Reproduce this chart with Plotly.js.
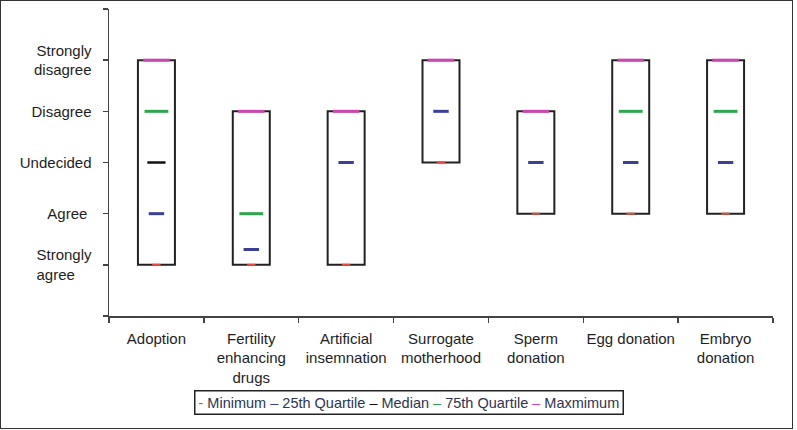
<!DOCTYPE html>
<html>
<head>
<meta charset="utf-8">
<script src="https://cdn.plot.ly/plotly-3.0.1.min.js"></script>
<style>
  html, body { margin: 0; padding: 0; background: #fff; }
  #wrap { position: relative; width: 797px; height: 430px; }
  #chart { width: 797px; height: 430px; }
  #frame { position: absolute; left: 0; top: 0; width: 791px; height: 427px; border: 1.5px solid #333; pointer-events: none; }
</style>
</head>
<body>
<div id="wrap"><div id="chart"></div><div id="frame"></div></div>
<script>
// ---- data ----
const categories = ['Adoption', 'Fertility<br>enhancing<br>drugs', 'Artificial<br>insemnation', 'Surrogate<br>motherhood', 'Sperm<br>donation', 'Egg donation', 'Embryo<br>donation'];
const minimum  = [1, 1,   1,    3,    2,    2,    2];
const quart25  = [2, 1.3, 3,    4,    3,    3,    3];
const median   = [3, null, null, null, null, null, null];
const quart75  = [4, 2,   null, null, null, 4,    4];
const maximum  = [5, 4,   4,    5,    4,    5,    5];

const yTickVals = [0, 1, 2, 3, 4, 5, 6];
const yTickText = ['', 'Strongly<br>agree\u00a0\u00a0\u00a0\u00a0', 'Agree\u00a0', 'Undecided', 'Disagree', 'Strongly<br>disagree', ''];

const seriesNames  = ['Minimum', '25th Quartile', 'Median', '75th Quartile', 'Maxmimum'];
const seriesColors = ['#e8493c', '#3c3f96', '#111111', '#2ea650', '#cc45b0'];
const seriesSymbolsText = ['-', '\u2013', '\u2013', '\u2013', '\u2013'];

// ---- traces ----
const font = 'Liberation Sans, Arial, sans-serif';
const seriesData = [minimum, quart25, median, quart75, maximum];
const dashSize  = [6, 11, 13, 17, 19];
const dashWidth = [2, 3, 2.5, 3, 3];

const traces = [];
traces.push({
  type: 'bar',
  x: categories,
  base: minimum,
  y: maximum.map((v, i) => v - minimum[i]),
  width: 0.39,
  marker: { color: '#ffffff', line: { color: '#222222', width: 2 } },
  hoverinfo: 'skip',
  showlegend: false
});
seriesData.forEach((arr, k) => {
  traces.push({
    type: 'scatter',
    mode: 'markers',
    name: seriesNames[k],
    x: categories,
    y: arr,
    marker: { symbol: 'line-ew', size: dashSize[k], line: { color: seriesColors[k], width: dashWidth[k] } },
    showlegend: false,
    cliponaxis: false
  });
});

const legendText = seriesNames.map((n, k) =>
  '<span style="color:' + seriesColors[k] + '">' + seriesSymbolsText[k] + '</span> ' + n
).join(' ');

const layout = {
  width: 797, height: 430,
  margin: { l: 109, r: 24, t: 9, b: 114 },
  paper_bgcolor: '#ffffff',
  plot_bgcolor: '#ffffff',
  font: { family: font, size: 15, color: '#1e1e1e' },
  showlegend: false,
  bargap: 0,
  xaxis: {
    type: 'category',
    range: [-0.5, 6.5],
    tickson: 'boundaries',
    tickangle: 0,
    ticks: 'outside', ticklen: 5, tickcolor: '#444', tickwidth: 1.5,
    showline: true, linecolor: '#444', linewidth: 1.5,
    showgrid: false, zeroline: false,
    ticklabelstandoff: 8,
    tickfont: { family: font, size: 15, color: '#1e1e1e' }
  },
  yaxis: {
    range: [0, 6],
    tickmode: 'array', tickvals: yTickVals, ticktext: yTickText,
    ticks: 'outside', ticklen: 5, tickcolor: '#444', tickwidth: 1.5,
    showline: true, linecolor: '#444', linewidth: 1.5,
    showgrid: false, zeroline: false,
    ticklabelstandoff: 8,
    tickfont: { family: font, size: 15, color: '#1e1e1e' }
  },
  annotations: [{
    xref: 'paper', yref: 'paper',
    x: 0.452, y: -0.241, xanchor: 'center', yanchor: 'top',
    text: legendText,
    showarrow: false,
    font: { family: font, size: 14.5, color: '#2e3452' },
    bordercolor: '#222', borderwidth: 1.5, borderpad: 3,
    bgcolor: '#ffffff'
  }]
};

Plotly.newPlot('chart', traces, layout, { displayModeBar: false, staticPlot: true });
</script>
</body>
</html>
